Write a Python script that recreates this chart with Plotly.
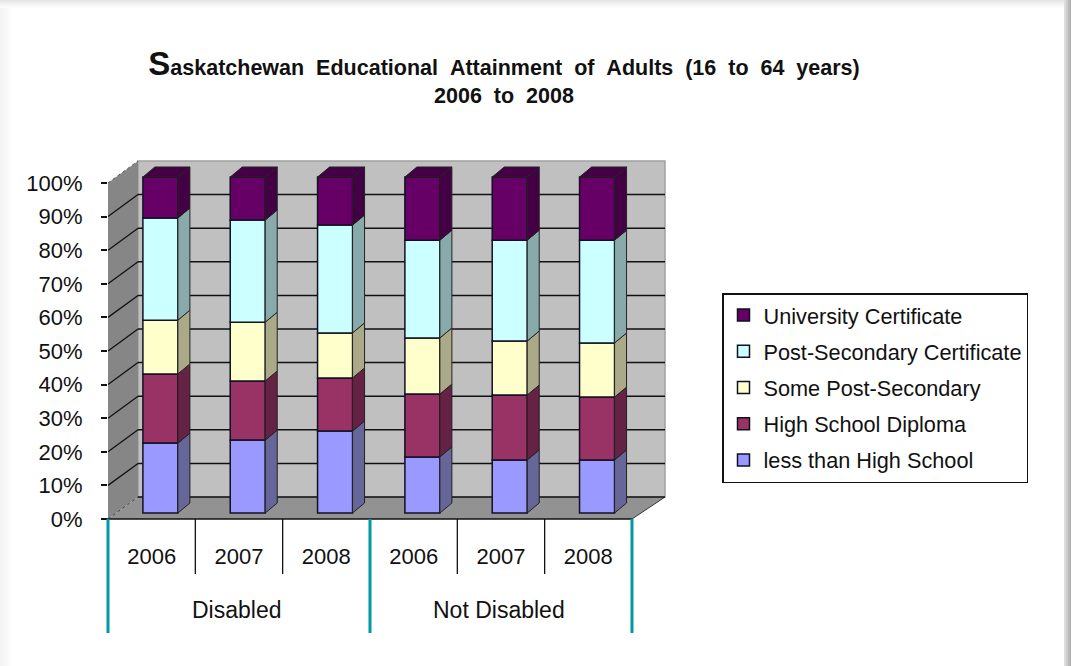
import plotly.graph_objects as go

# ---- data (share of adults, %) ----
years = ["2006", "2007", "2008", "2006", "2007", "2008"]
groups = ["Disabled", "Not Disabled"]
less_than_hs = [20.8, 21.7, 24.4, 16.7, 15.8, 15.8]
hs_diploma = [20.6, 17.6, 15.8, 18.7, 19.3, 18.7]
some_ps = [16.0, 17.5, 13.4, 16.7, 16.1, 16.1]
ps_cert = [30.4, 30.4, 32.1, 29.1, 30.0, 30.6]
univ = [12.2, 12.8, 14.3, 18.8, 18.8, 18.8]
yticks = list(range(0, 101, 10))

series = [
    ("less than High School", less_than_hs, "#9999FF", "#666699", 5),
    ("High School Diploma", hs_diploma, "#993366", "#662244", 4),
    ("Some Post-Secondary", some_ps, "#FFFFCC", "#AAAA88", 3),
    ("Post-Secondary Certificate", ps_cert, "#CCFFFF", "#88AAAA", 2),
    ("University Certificate", univ, "#660066", "#440044", 1),
]

W, H = 1071, 666
X0, XU = 108, 87.33      # pixel of x=0, pixels per category
Y0, YU = 519, 3.36       # pixel of y=0, pixels per percent
XMAX, YMIN, YMAX = 6.45, -1.0, 107.5
px_l, px_r = X0, X0 + XMAX * XU
px_b, px_t = Y0 - YMIN * YU, Y0 - YMAX * YU

WALL_DX, WALL_DY = 30 / XU, 22 / YU     # depth of the chart box
BAR_DX, BAR_DY = 12 / XU, 10 / YU       # depth of a bar
BAR_W = 35 / XU
BAR_OFF_X, BAR_OFF_Y = 0.1, 6 / YU      # bars stand inside the floor

fx = lambda p: p / W
fy = lambda p: 1 - p / H

fig = go.Figure()

# front faces and 3-D side faces
base = [BAR_OFF_Y] * 6
for name, vals, col, dark, rank in series:
    xs = [i + 0.5 + BAR_OFF_X for i in range(6)]
    fig.add_trace(go.Bar(
        x=xs, y=vals, base=base, width=BAR_W, name=name, legendgroup=name, legendrank=rank,
        marker=dict(color=col, line=dict(color="#111122", width=1.5)),
    ))
    sx, sy = [], []
    for x, b, v in zip(xs, base, vals):
        r = x + BAR_W / 2
        sx += [r, r + BAR_DX, r + BAR_DX, r, r, None]
        sy += [b, b + BAR_DY, b + v + BAR_DY, b + v, b, None]
    fig.add_trace(go.Scatter(
        x=sx, y=sy, mode="lines", fill="toself", fillcolor=dark,
        line=dict(color="#222222", width=1), showlegend=False, hoverinfo="skip",
    ))
    base = [b + v for b, v in zip(base, vals)]

# top caps of the stacks
tx, ty = [], []
for i, t in enumerate(base):
    l = i + 0.5 + BAR_OFF_X - BAR_W / 2
    r = l + BAR_W
    tx += [l, l + BAR_DX, r + BAR_DX, r, l, None]
    ty += [t, t + BAR_DY, t + BAR_DY, t, t, None]
fig.add_trace(go.Scatter(
    x=tx, y=ty, mode="lines", fill="toself", fillcolor=series[-1][3],
    line=dict(color="#222222", width=1), showlegend=False, hoverinfo="skip",
))

shapes = []


def poly(xs, ys, fill, line=None, width=0, dash=None):
    path = "M" + "L".join(f"{x},{y}" for x, y in zip(xs, ys)) + "Z"
    shapes.append(dict(type="path", path=path, xref="x", yref="y", layer="below",
                       fillcolor=fill, line=dict(color=line or fill, width=width, dash=dash)))


# page card shading
for i, c in enumerate(["#f4f4f4", "#f7f7f7", "#fafafa", "#fdfdfd"]):
    shapes.append(dict(type="rect", xref="paper", yref="paper", layer="below",
                       x0=fx(3 * i), x1=fx(3 * i + 3), y0=0, y1=1, fillcolor=c, line_width=0))
for i, c in enumerate(["#e6e6e6", "#eeeeee", "#f5f5f5", "#fbfbfb"]):
    shapes.append(dict(type="rect", xref="paper", yref="paper", layer="below",
                       x0=0, x1=1, y0=fy(2 * i + 2), y1=fy(2 * i), fillcolor=c, line_width=0))
for i, c in enumerate(["#dddddd", "#cccccc", "#bbbbbb", "#aaaaaa"]):
    shapes.append(dict(type="rect", xref="paper", yref="paper", layer="below",
                       x0=fx(1064 + 2 * i), x1=fx(1066 + 2 * i if i < 3 else W), y0=0, y1=1,
                       fillcolor=c, line_width=0))

# chart box
bx0 = WALL_DX
bx1 = (665 - X0) / XU
ftop = 100 + WALL_DY
poly([bx0, bx1, bx1, bx0], [WALL_DY, WALL_DY, ftop, ftop], "#C0C0C0", "#A0A0A0", 1.5)
poly([0, bx0, bx0, 0], [0, WALL_DY, ftop, 100], "#868686")
poly([0, bx0, bx1, (632 - X0) / XU], [0, WALL_DY, WALL_DY, 0], "#929292")
shapes.append(dict(type="line", xref="x", yref="y", layer="below", x0=0, y0=100, x1=bx0, y1=ftop,
                   line=dict(color="#555555", width=1, dash="dot")))
shapes.append(dict(type="line", xref="x", yref="y", layer="below", x0=(632 - X0) / XU, y0=0, x1=bx1, y1=WALL_DY,
                   line=dict(color="#333333", width=1)))
for t in yticks:
    if t == 100:
        continue
    if t > 0:
        shapes.append(dict(type="line", xref="x", yref="y", layer="below", x0=0, y0=t, x1=bx0, y1=t + WALL_DY,
                           line=dict(color="#111111", width=1.3)))
    else:
        shapes.append(dict(type="line", xref="x", yref="y", layer="below", x0=0, y0=t, x1=bx0, y1=t + WALL_DY,
                           line=dict(color="#444444", width=1, dash="dot")))
    shapes.append(dict(type="line", xref="x", yref="y", layer="below", x0=bx0, y0=t + WALL_DY, x1=bx1, y1=t + WALL_DY,
                       line=dict(color="#111111", width=1.5)))

# category axis: baseline, separators, group dividers
shapes.append(dict(type="line", xref="paper", yref="paper", x0=fx(102), x1=fx(632), y0=fy(Y0), y1=fy(Y0),
                   line=dict(color="#111111", width=1.5)))
for i in (1, 2, 4, 5):
    px = X0 + i * XU
    shapes.append(dict(type="line", xref="paper", yref="paper", x0=fx(px), x1=fx(px), y0=fy(Y0), y1=fy(574),
                       line=dict(color="#111111", width=1.3)))
for i in (0, 3, 6):
    px = X0 + i * XU
    shapes.append(dict(type="line", xref="paper", yref="paper", x0=fx(px), x1=fx(px), y0=fy(Y0), y1=fy(633),
                       line=dict(color="#0097A7", width=3)))

annotations = [
    dict(text=g, xref="paper", yref="paper", x=fx(X0 + (1.5 + 3 * i) * XU - 2), y=fy(610), xanchor="center",
         yanchor="middle", showarrow=False, font=dict(family="Liberation Sans, Arial", size=23, color="#111111"))
    for i, g in enumerate(groups)
]

fig.update_layout(
    width=W, height=H, margin=dict(l=0, r=0, t=0, b=0, pad=0), autosize=False,
    paper_bgcolor="white", plot_bgcolor="rgba(0,0,0,0)",
    barmode="overlay", shapes=shapes, annotations=annotations,
    font=dict(family="Liberation Sans, Arial", color="#111111"),
    title=dict(
        text="<b><span style='font-size:33px'>S</span>askatchewan&nbsp;&nbsp;Educational&nbsp;&nbsp;Attainment&nbsp;&nbsp;"
             "of&nbsp;&nbsp;Adults&nbsp;&nbsp;(16&nbsp;&nbsp;to&nbsp;&nbsp;64&nbsp;&nbsp;years)<br>"
             "2006&nbsp;&nbsp;to&nbsp;&nbsp;2008</b>",
        x=504 / W, xanchor="center", xref="paper", y=1 - 75 / H, yanchor="bottom", yref="paper",
        font=dict(size=21.5, color="#111111", family="Liberation Sans, Arial"),
    ),
    xaxis=dict(
        domain=[fx(px_l), fx(px_r)], range=[0, XMAX], showgrid=False, zeroline=False, automargin=False,
        tickmode="array", tickvals=[i + 0.5 for i in range(6)], ticktext=years,
        ticks="outside", ticklen=14, tickcolor="rgba(0,0,0,0)", tickwidth=1,
        tickfont=dict(size=22, color="#111111"), showline=False,
    ),
    yaxis=dict(
        domain=[fy(px_b), fy(px_t)], range=[YMIN, YMAX], showgrid=False, zeroline=False, automargin=False,
        tickmode="array", tickvals=yticks, ticktext=[f"{t}%" for t in yticks],
        ticks="outside", ticklen=6, tickcolor="#111111", tickwidth=1.5,
        tickfont=dict(size=22, color="#111111"), ticklabelstandoff=14, showline=False,
    ),
    legend=dict(
        x=722 / W, y=1 - 293 / H, xanchor="left", yanchor="top",
        bgcolor="white", bordercolor="#111111", borderwidth=1.5,
        tracegroupgap=5,
        font=dict(size=21.7, color="#111111"),
    ),
)

fig.write_html(
    "out.html",
    config={"displayModeBar": False, "responsive": False},
    default_width=f"{W}px", default_height=f"{H}px",
    post_script="document.body.style.margin='0';document.body.style.overflow='hidden';",
)
